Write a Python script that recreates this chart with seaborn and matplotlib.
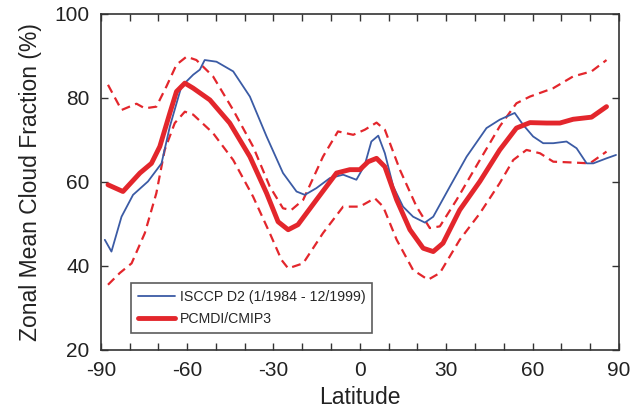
import numpy as np
import pandas as pd
import seaborn as sns
import matplotlib
matplotlib.use("Agg")
import matplotlib.pyplot as plt

# ISCCP D2 observations (blue)
obs_lat = [-88.6, -86.3, -82.8, -78.8, -73.6, -68.9, -66.0, -62.0, -57.9, -55.6, -53.9,
           -49.8, -44.0, -38.2, -32.4, -26.7, -22.0, -19.1, -15.1, -10.4, -5.8, -1.2,
           1.7, 4.0, 6.4, 8.7, 11.6, 15.0, 18.5, 22.6, 25.5, 31.3, 37.1, 44.0, 48.6,
           53.8, 56.7, 60.2, 63.7, 67.2, 71.8, 75.3, 78.8, 81.1, 85.7, 89.0]
obs_cld = [46.2, 43.4, 51.7, 56.9, 60.1, 64.4, 73.2, 82.7, 85.5, 86.7, 89.0,
           88.6, 86.3, 80.3, 70.8, 62.1, 57.7, 56.9, 58.5, 60.9, 61.7, 60.5,
           64.0, 69.6, 71.0, 66.8, 58.9, 54.1, 51.7, 50.3, 51.7, 58.9, 66.0, 72.8, 74.8,
           76.4, 73.6, 70.8, 69.2, 69.2, 69.6, 68.0, 64.4, 64.4, 65.6, 66.4]

# PCMDI/CMIP3 model mean (red) and +/- spread (dashed)
mod_lat = [-87.5, -82.3, -76.4, -72.4, -69.5, -66.0, -63.7, -60.8, -57.9, -52.1, -45.2,
           -38.2, -32.4, -28.4, -24.9, -21.5, -15.1, -8.1, -3.5, 0.0, 2.9, 5.8, 8.7,
           12.8, 17.4, 22.0, 25.5, 28.9, 34.7, 41.7, 48.6, 54.4, 59.1, 64.9, 69.5,
           74.1, 80.5, 85.7]
mod_cld = [59.3, 57.7, 62.1, 64.4, 68.4, 76.4, 81.5, 83.5, 82.3, 79.5, 74.0,
           66.0, 57.3, 50.5, 48.6, 49.8, 55.7, 62.1, 62.9, 62.9, 64.8, 65.6, 63.6,
           55.7, 48.6, 44.2, 43.4, 45.4, 53.3, 60.1, 67.6, 72.8, 74.1, 74.0, 74.0,
           74.9, 75.4, 77.9]

up_lat = [-87.5, -82.8, -77.6, -74.7, -70.7, -67.2, -63.7, -60.2, -56.8, -51.0, -44.0,
          -37.1, -31.3, -26.7, -23.8, -19.7, -12.8, -7.6, -2.3, 1.7, 5.8, 8.7, 13.9,
          19.7, 24.3, 27.8, 33.6, 41.7, 48.6, 54.4, 59.1, 67.2, 74.1, 80.5, 85.7]
up_cld = [83.1, 77.1, 78.6, 77.5, 77.9, 82.7, 87.9, 89.8, 89.0, 85.1, 77.1,
          68.4, 58.9, 53.7, 53.3, 55.7, 66.0, 72.0, 71.2, 72.4, 74.1, 72.4, 62.9,
          54.1, 49.0, 49.4, 55.7, 65.2, 73.2, 78.7, 80.3, 82.3, 85.1, 86.3, 89.0]

lo_lat = [-87.5, -83.4, -79.3, -74.7, -70.7, -67.8, -64.3, -60.8, -57.9, -51.0, -44.0,
          -37.1, -31.3, -27.2, -24.9, -19.7, -12.8, -5.8, 0.0, 5.2, 8.1, 12.8, 18.5,
          23.7, 27.8, 34.7, 41.7, 48.6, 53.3, 57.9, 62.6, 67.2, 74.1, 79.9, 85.7]
lo_cld = [35.5, 38.3, 40.6, 47.8, 57.3, 67.6, 74.0, 76.7, 76.0, 71.6, 65.2,
          56.5, 47.8, 41.4, 39.4, 40.6, 47.8, 54.1, 54.1, 56.1, 54.1, 46.2, 39.0,
          36.7, 38.3, 46.2, 52.5, 59.7, 65.2, 67.6, 66.8, 64.8, 64.6, 64.4, 67.2]

sns.set_style("ticks")
plt.rcParams['font.family'] = ['Liberation Sans', 'DejaVu Sans']
plt.rcParams['axes.unicode_minus'] = False

fig = plt.figure(figsize=(6.42, 4.19), dpi=100)
ax = fig.add_axes([0.157, 0.165, 0.807, 0.802])

red = '#e3262c'
blue = '#3b5ba5'

sns.lineplot(x=up_lat, y=up_cld, ax=ax, color=red, lw=1.6, linestyle=(0, (4, 2.5)), sort=False)
sns.lineplot(x=lo_lat, y=lo_cld, ax=ax, color=red, lw=1.6, linestyle=(0, (4, 2.5)), sort=False)
sns.lineplot(x=obs_lat, y=obs_cld, ax=ax, color=blue, lw=1.3, sort=False,
             label='ISCCP D2 (1/1984 - 12/1999)')
sns.lineplot(x=mod_lat, y=mod_cld, ax=ax, color=red, lw=3.5, sort=False,
             label='PCMDI/CMIP3')

ax.set_xlim(-90, 90)
ax.set_ylim(20, 100)
ax.set_xticks(np.arange(-90, 91, 30))
ax.set_xticks(np.arange(-90, 91, 10), minor=True)
ax.set_yticks(np.arange(20, 101, 20))
ax.tick_params(which='both', direction='in', top=True, right=True, labelsize=15,
               color='#333333', labelcolor='#222222')
ax.tick_params(which='major', length=5, width=1)
ax.tick_params(which='minor', length=5, width=1)
ax.tick_params(axis='x', pad=8)
ax.tick_params(axis='y', pad=8)
for s in ax.spines.values():
    s.set_color('#333333')
    s.set_linewidth(1.2)

ax.set_xlabel('Latitude', fontsize=16.5, labelpad=4, color='#222222')
ax.set_ylabel('Zonal Mean Cloud Fraction (%)', fontsize=16.5, labelpad=9, color='#222222')

leg = ax.legend(loc='lower left', bbox_to_anchor=(0.059, 0.05), fontsize=10.2,
                frameon=True, fancybox=False, handlelength=2.6, borderpad=0.5,
                labelspacing=0.55, handletextpad=0.3, borderaxespad=0)
leg.get_frame().set_edgecolor('#333333')
leg.get_frame().set_linewidth(1.2)

fig.savefig('out.png', dpi=100)
